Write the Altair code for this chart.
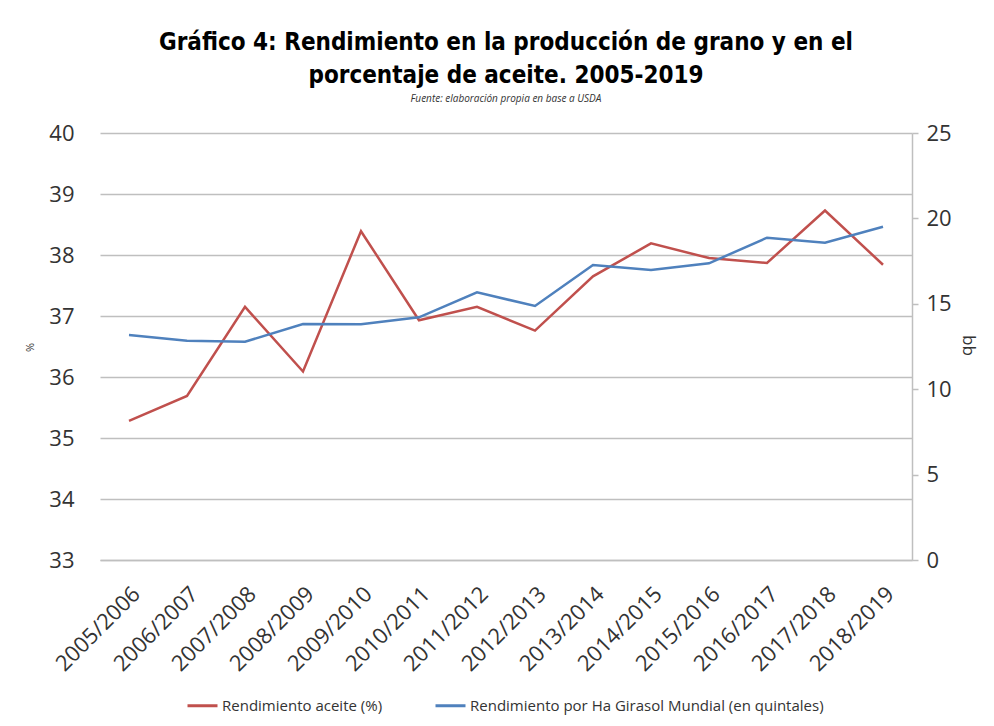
import altair as alt
import pandas as pd

campaigns = ["2005/2006", "2006/2007", "2007/2008", "2008/2009", "2009/2010",
             "2010/2011", "2011/2012", "2012/2013", "2013/2014", "2014/2015",
             "2015/2016", "2016/2017", "2017/2018", "2018/2019"]
aceite = [35.28, 35.69, 37.15, 36.09, 38.39, 36.93, 37.15, 36.76, 37.65,
          38.19, 37.95, 37.87, 38.73, 37.84]
rendimiento = [13.17, 12.84, 12.78, 13.82, 13.80, 14.21, 15.67, 14.87, 17.27,
               16.98, 17.37, 18.87, 18.58, 19.51]

series_names = ["Rendimiento aceite (%)",
                "Rendimiento por Ha Girasol Mundial (en quintales)"]
series_colors = ["#C0504D", "#4F81BD"]

df_red = pd.DataFrame({"campaña": campaigns, "valor": aceite,
                       "serie": [series_names[0]] * len(campaigns)})
df_blue = pd.DataFrame({"campaña": campaigns, "valor": rendimiento,
                        "serie": [series_names[1]] * len(campaigns)})

FONT = "Open Sans"
TITLE_FONT = "DejaVu Sans Condensed, DejaVu Sans, sans-serif"
GRID = "#BFBFBF"
LABEL = "#333333"

x_enc = alt.X(
    "campaña:N", sort=campaigns,
    scale=alt.Scale(type="point", padding=0.5),
    axis=alt.Axis(title=None, labelAngle=-45, labelFontSize=22, labelFont=FONT,
                  labelColor=LABEL, ticks=False, domain=True, domainColor=GRID,
                  domainWidth=1.5, labelPadding=23, grid=False),
)

color_scale = alt.Scale(domain=series_names, range=series_colors)

red = alt.Chart(df_red).mark_line(strokeWidth=2.5).encode(
    x=x_enc,
    y=alt.Y("valor:Q", scale=alt.Scale(domain=[33, 40], nice=False, zero=False),
            axis=alt.Axis(title="%", values=[33, 34, 35, 36, 37, 38, 39, 40],
                          orient="left", grid=True, gridColor=GRID, gridWidth=1.5,
                          domain=False, ticks=False, labelFontSize=22,
                          labelFont=FONT, labelColor=LABEL, labelPadding=26,
                          titleFontSize=11, titleFont=FONT, titleFontWeight="normal",
                          titleColor=LABEL, titleAngle=270, titleX=-65, titleY=214)),
    color=alt.Color("serie:N", scale=color_scale,
                    legend=alt.Legend(title=None, orient="none", direction="horizontal",
                                      legendX=86, legendY=556, symbolType="stroke",
                                      symbolStrokeWidth=3, symbolSize=900,
                                      labelFontSize=15, labelFont=FONT,
                                      labelColor=LABEL, labelOffset=3,
                                      labelLimit=0, columnPadding=46)),
)

blue = alt.Chart(df_blue).mark_line(strokeWidth=2.5).encode(
    x=x_enc,
    y=alt.Y("valor:Q", scale=alt.Scale(domain=[0, 25], nice=False),
            axis=alt.Axis(title="qq", values=[0, 5, 10, 15, 20, 25], orient="right",
                          grid=False, domain=True, domainColor=GRID, domainWidth=1.5,
                          ticks=True, tickColor=GRID, tickSize=6, tickWidth=1.5,
                          labelFontSize=22, labelFont=FONT, labelColor=LABEL,
                          labelPadding=8, titleFontSize=17, titleFont=FONT,
                          titleFontWeight="normal", titleColor=LABEL,
                          titleAngle=270, titleX=63, titleY=212)),
    color=alt.Color("serie:N", scale=color_scale),
)

chart = alt.layer(red, blue).resolve_scale(
    y="independent"
).properties(
    width=812, height=427,
    autosize=alt.AutoSizeParams(type="none"),
    padding={"left": 92, "top": 125, "right": 74, "bottom": 158},
    title=alt.TitleParams(
        text=["Gráfico 4: Rendimiento en la producción de grano y en el",
              "porcentaje de aceite. 2005-2019"],
        subtitle="Fuente: elaboración propia en base a USDA",
        font=TITLE_FONT, fontSize=24, fontWeight="bold",
        color="#000000", lineHeight=33, anchor="middle", frame="group", offset=18,
        subtitleFont=FONT, subtitleFontSize=10, subtitleFontStyle="italic",
        subtitleColor="#333333", subtitlePadding=6,
    ),
).configure_view(stroke=None)

chart.save("out.html", embed_options={"renderer": "svg", "actions": False})
